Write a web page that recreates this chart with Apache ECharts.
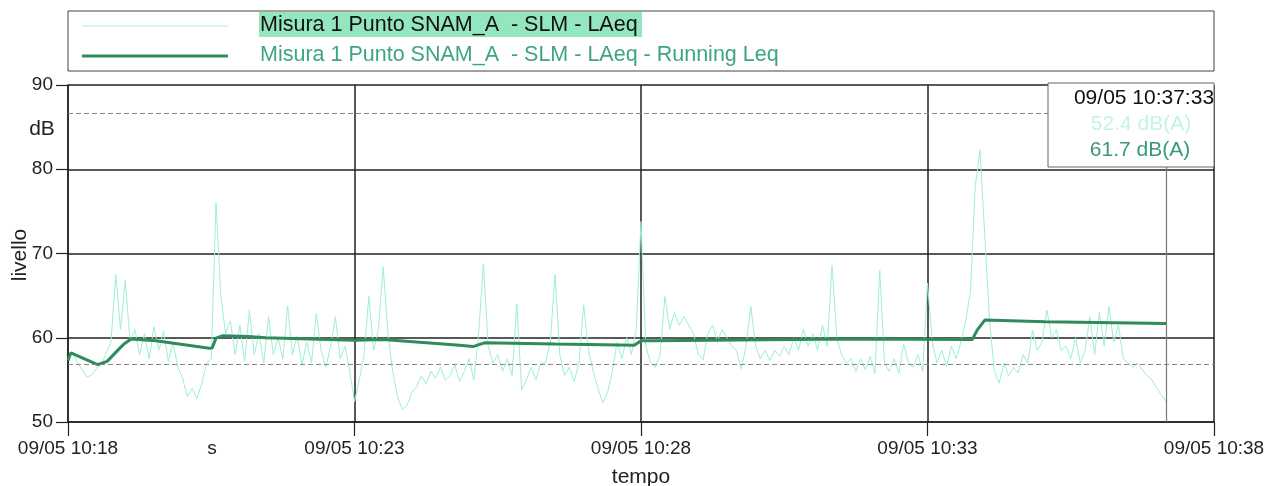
<!DOCTYPE html>
<html>
<head>
<meta charset="utf-8">
<script src="https://cdn.jsdelivr.net/npm/echarts@6/dist/echarts.min.js"></script>
<style>
html,body{margin:0;padding:0;background:#fff;}
#chart{width:1282px;height:486px;}
</style>
</head>
<body>
<div id="chart"></div>
<script>
// x tick labels (every 300 s from 10:18)
const xTickLabels = ['09/05 10:18', '09/05 10:23', '09/05 10:28', '09/05 10:33', '09/05 10:38'];
const seriesNames = ['Misura 1 Punto SNAM_A  - SLM - LAeq', 'Misura 1 Punto SNAM_A  - SLM - LAeq - Running Leq'];
// LAeq, one value every 5 s starting at 10:18:00
const laeqStepSec = 5;
const laeqValues = [
  57.5, 58.3, 57.0, 56.2, 55.3, 55.6, 56.4, 56.8, 58.2, 59.5,
  67.5, 61.0, 66.8, 59.5, 61.0, 58.0, 60.5, 57.5, 61.3, 58.5,
  60.8, 57.2, 59.5, 56.5, 55.2, 53.0, 54.0, 52.8, 54.5, 57.0,
  57.5, 76.0, 65.0, 60.5, 62.0, 58.0, 61.5, 57.2, 63.3, 58.0,
  60.5, 57.0, 62.5, 58.0, 60.0, 57.5, 63.8, 58.0, 60.2, 56.8,
  59.5, 57.0, 62.9, 58.5, 56.5, 59.0, 62.5, 57.5, 59.0, 56.0,
  52.4, 55.0, 58.0, 64.9, 58.5, 61.0, 68.4, 60.5, 56.0, 53.0,
  51.5, 52.0, 53.5, 54.2, 55.5, 54.5, 56.0, 55.2, 56.5, 55.0,
  55.5, 56.8, 54.8, 56.0, 57.5, 55.0, 60.5, 68.8, 59.0, 57.0,
  58.0, 56.0, 57.5, 55.5, 64.0, 53.8, 55.0, 56.5, 55.0, 57.0,
  57.0, 59.5, 67.5, 58.0, 55.5, 56.5, 54.8, 57.0, 63.9, 58.5,
  56.0, 54.0, 52.3, 53.5, 56.0, 59.5, 57.5, 60.0, 58.0, 61.0,
  73.8, 59.0, 57.0, 56.5, 58.0, 64.9, 61.0, 63.0, 61.5, 62.5,
  61.5, 60.5, 58.0, 57.4, 60.5, 61.5, 59.5, 61.0, 60.0, 59.0,
  58.5, 56.3, 59.0, 63.7, 59.0, 57.5, 58.5, 57.3, 58.5, 57.8,
  59.0, 58.0, 60.0, 58.5, 61.0, 59.0, 60.5, 58.5, 61.5, 59.0,
  68.6, 60.0, 58.0, 57.0, 57.5, 56.0, 57.5, 56.2, 57.8, 55.8,
  68.0, 57.0, 56.0, 57.5, 55.8, 59.3, 57.0, 56.5, 58.0, 56.0,
  66.5, 59.5, 57.0, 58.5, 56.6, 59.0, 57.5, 59.5, 62.0, 65.5,
  78.0, 82.3, 72.0, 62.0, 56.0, 54.6, 57.0, 55.5, 56.5, 55.8,
  58.0, 57.0, 60.9, 58.5, 59.5, 63.3, 60.0, 61.0, 58.5, 59.0,
  57.5, 60.0, 57.0, 58.5, 62.5, 58.0, 63.0, 59.0, 63.7, 59.5,
  61.5, 57.5, 57.0, 56.5, 57.0, 56.2, 55.5, 55.0, 54.0, 53.2, 52.4
];
// Running Leq: seconds after 10:18:00 and values
const leqSeconds = [0, 3, 31, 41, 52, 59, 66, 92, 148, 151, 155, 162, 189, 207, 300, 330, 410, 424, 436, 510, 593, 600, 614, 818, 947, 952, 960, 1023, 1150];
const leqValues = [57.3, 58.2, 56.8, 57.2, 58.5, 59.3, 59.85, 59.65, 58.75, 58.8, 59.95, 60.25, 60.15, 60.0, 59.7, 59.8, 59.1, 58.95, 59.4, 59.25, 59.1, 59.65, 59.65, 59.85, 59.8, 60.9, 62.1, 61.9, 61.7];
// reference lines and cursor
const dashedLevels = [86.7, 56.8];
const cursorSec = 1150;
const cursorTime = '09/05 10:37:33';
const cursorReadings = ['52.4 dB(A)', '61.7 dB(A)'];

const laeqData = laeqValues.map((v, i) => [i * laeqStepSec, v]);
const leqData = leqSeconds.map((s, i) => [s, leqValues[i]]);

const FONT = '"Liberation Sans", Arial, sans-serif';
const chart = echarts.init(document.getElementById('chart'));
chart.setOption({
  animation: false,
  backgroundColor: '#fff',
  grid: {left: 68, right: 68, top: 85, bottom: 64, containLabel: false, outerBoundsMode: 'none'},
  xAxis: {
    type: 'value', min: 0, max: 1200, interval: 300,
    name: 'tempo', nameLocation: 'middle', nameGap: 45,
    nameTextStyle: {fontFamily: FONT, fontSize: 21, color: '#222'},
    axisLine: {show: true, lineStyle: {color: '#222', width: 1.5}},
    axisTick: {show: true, length: 14, lineStyle: {color: '#222', width: 1.2}},
    axisLabel: {margin: 17, fontFamily: FONT, fontSize: 19, color: '#222',
      formatter: v => xTickLabels[Math.round(v / 300)] || ''},
    splitLine: {show: true, lineStyle: {color: '#222', width: 1.5}}
  },
  yAxis: {
    type: 'value', min: 50, max: 90, interval: 10,
    axisLine: {show: true, lineStyle: {color: '#222', width: 1.5}},
    axisTick: {show: true, length: 12, lineStyle: {color: '#222', width: 1.2}},
    axisLabel: {margin: 15, fontFamily: FONT, fontSize: 19, color: '#222'},
    splitLine: {show: true, lineStyle: {color: '#222', width: 1.5}}
  },
  series: [
    {
      name: seriesNames[0], type: 'line', data: laeqData, showSymbol: false, z: 3,
      lineStyle: {color: '#9cf0d2', width: 1},
      markLine: {
        silent: true, symbol: 'none', label: {show: false},
        lineStyle: {color: '#888', width: 1, type: [5, 3]},
        data: dashedLevels.map(v => ({yAxis: v}))
      }
    },
    {
      name: seriesNames[1], type: 'line', data: leqData, showSymbol: false, z: 4,
      lineStyle: {color: '#2f8a5e', width: 3},
      markLine: {
        silent: true, symbol: 'none', label: {show: false},
        lineStyle: {color: '#777', width: 1.2, type: 'solid'},
        data: [{xAxis: cursorSec}]
      }
    }
  ],
  graphic: [
    // legend box
    {type: 'rect', z: 10, shape: {x: 68, y: 11, width: 1146, height: 60}, style: {fill: '#fff', stroke: '#444', lineWidth: 1}},
    {type: 'line', z: 11, shape: {x1: 82, y1: 26, x2: 228, y2: 26}, style: {stroke: '#c8f6e4', lineWidth: 1.5}},
    {type: 'line', z: 11, shape: {x1: 82, y1: 56, x2: 228, y2: 56}, style: {stroke: '#2f8a5e', lineWidth: 3}},
    {type: 'rect', z: 11, shape: {x: 259, y: 12, width: 383, height: 25}, style: {fill: '#93e6bd'}},
    {type: 'text', z: 12, x: 260, y: 25, style: {text: seriesNames[0], font: '21.5px ' + FONT, fill: '#111', textVerticalAlign: 'middle'}},
    {type: 'text', z: 12, x: 260, y: 55, style: {text: seriesNames[1], font: '21.5px ' + FONT, fill: '#3fa57f', textVerticalAlign: 'middle'}},
    // cursor info box
    {type: 'rect', z: 10, shape: {x: 1048, y: 83, width: 166, height: 84}, style: {fill: '#fff', stroke: '#666', lineWidth: 1}},
    {type: 'text', z: 12, x: 1144, y: 98, style: {text: cursorTime, font: '21px ' + FONT, fill: '#111', textAlign: 'center', textVerticalAlign: 'middle'}},
    {type: 'text', z: 12, x: 1141, y: 124, style: {text: cursorReadings[0], font: '21px ' + FONT, fill: '#c4f3e3', textAlign: 'center', textVerticalAlign: 'middle'}},
    {type: 'text', z: 12, x: 1140, y: 150, style: {text: cursorReadings[1], font: '21px ' + FONT, fill: '#3a9a74', textAlign: 'center', textVerticalAlign: 'middle'}},
    // axis names and unit labels
    {type: 'text', z: 12, x: 20, y: 255, rotation: Math.PI / 2, style: {text: 'livello', font: '21px ' + FONT, fill: '#222', textAlign: 'center', textVerticalAlign: 'middle'}},
    {type: 'text', z: 12, x: 42, y: 129, style: {text: 'dB', font: '21px ' + FONT, fill: '#222', textAlign: 'center', textVerticalAlign: 'middle'}},
    {type: 'text', z: 12, x: 212, y: 449, style: {text: 's', font: '19px ' + FONT, fill: '#222', textAlign: 'center', textVerticalAlign: 'middle'}}
  ]
});
</script>
</body>
</html>
